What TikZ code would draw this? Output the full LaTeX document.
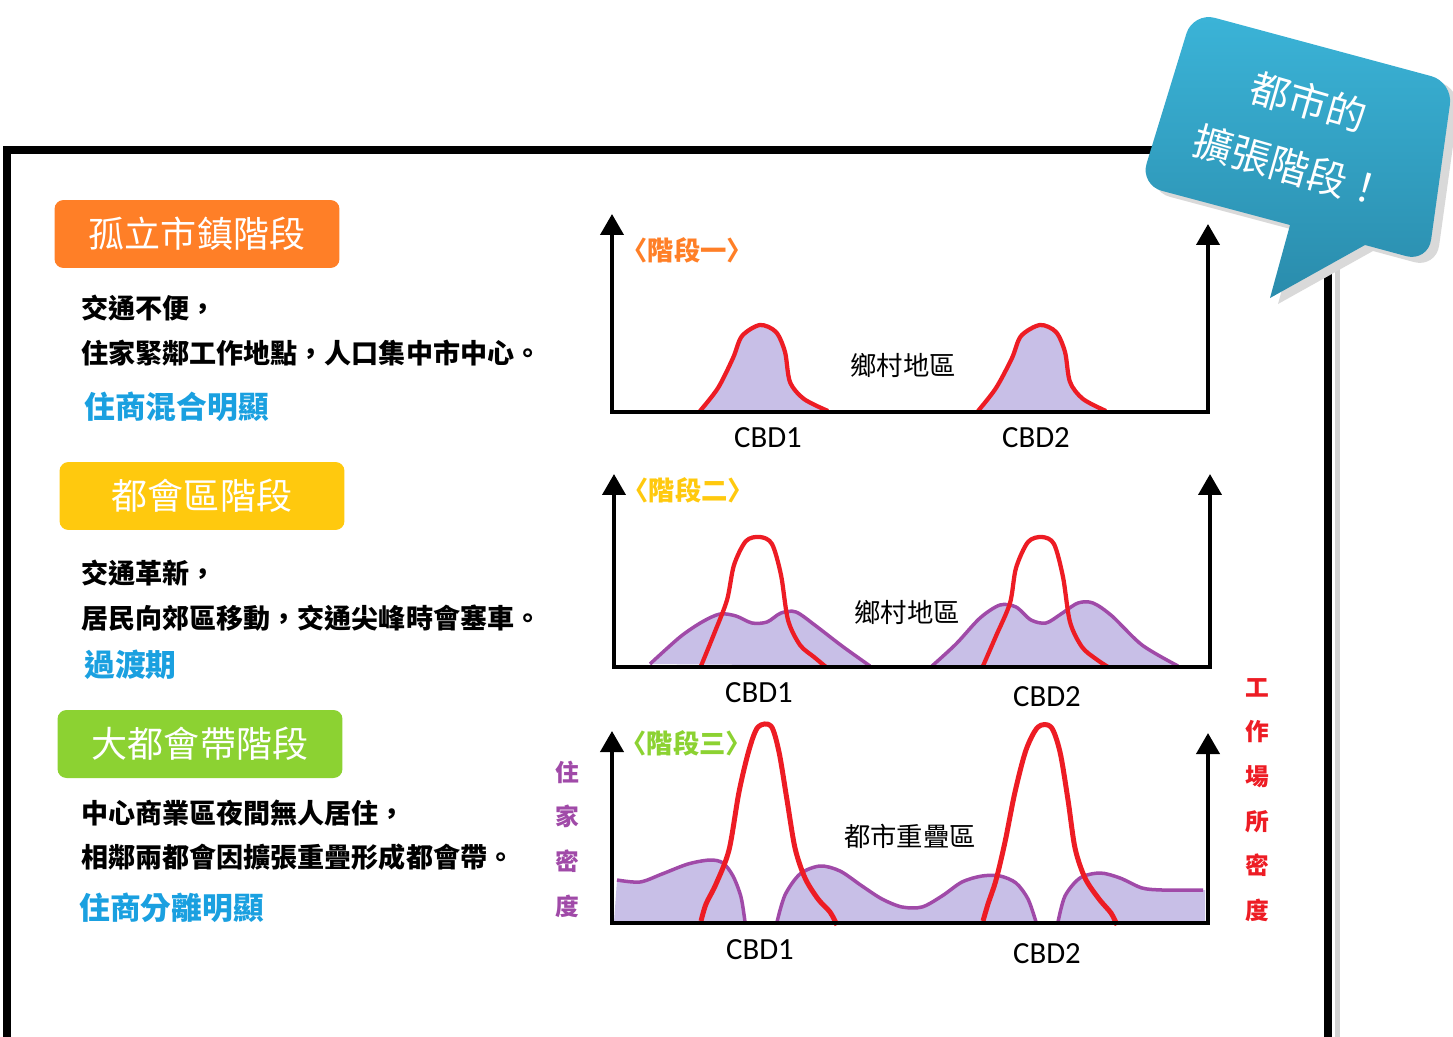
\documentclass[tikz,border=0pt]{standalone}
\usepackage{fontspec}
\setmainfont{Noto Sans CJK TC}
\newfontfamily\cbdfont{Carlito}
\usetikzlibrary{arrows.meta}
\definecolor{lav}{HTML}{C8BFE7}
\definecolor{peakred}{HTML}{ED1C24}
\definecolor{resid}{HTML}{A04AA8}
\definecolor{stageone}{HTML}{FF7F27}
\definecolor{stagetwo}{HTML}{FFC90E}
\definecolor{stagethree}{HTML}{8CD232}
\definecolor{notecol}{HTML}{1AA0E0}
\definecolor{bubtop}{HTML}{3BB4D8}
\definecolor{bubbot}{HTML}{2A8CAC}
\tikzset{
  badge/.style={fill=#1, rounded corners=0.18cm, minimum width=5.7cm, minimum height=1.36cm,
    text=white, font=\fontsize{20.5pt}{24pt}\selectfont},
  body/.style={anchor=west, font=\fontsize{15.4pt}{18pt}\selectfont\bfseries},
  note/.style={anchor=west, text=notecol, font=\fontsize{17.5pt}{21pt}\selectfont\bfseries},
  stagetag/.style={anchor=west, text=#1, font=\fontsize{15pt}{18pt}\selectfont\bfseries},
  area/.style={font=\fontsize{15pt}{18pt}\selectfont},
  cbd/.style={font=\cbdfont\fontsize{17.5pt}{20pt}\selectfont},
  axis/.style={line width=0.08cm, {Triangle[width=0.46cm,length=0.42cm]}-{Triangle[width=0.46cm,length=0.42cm]}},
  workline/.style={peakred, line width=0.085cm, line join=round},
  homeline/.style={resid, line width=0.07cm, line join=round},
  sidelabel/.style={text=#1, align=center, font=\fontsize{13.5pt}{25.4pt}\selectfont\bfseries},
  bubtext/.style={text=white, rotate=-16, align=center, font=\fontsize{22.5pt}{38pt}\selectfont}
}
\begin{document}
\begin{tikzpicture}[x=0.02cm,y=-0.02cm]
\tikzstyle{every node}+=[inner sep=0pt]
\useasboundingbox (0,0) rectangle (1453,1037);
\draw [gray!35, line width=0.1cm] (1337,158) -- (1337,1045);
\draw [black, line width=0.16cm] (7,1045) -- (7,150) -- (1328,150) -- (1328,1045);

\node [badge=stageone] (badge1) at (197,234) {孤立市鎮階段};
\node [body] (text1a) at (81,308) {交通不便，};
\node [body] (text1b) at (81,353) {住家緊鄰工作地點，人口集中市中心。};
\node [note] (note1) at (84,407) {住商混合明顯};

\node [badge=stagetwo] (badge2) at (202,496) {都會區階段};
\node [body] (text2a) at (81,573) {交通革新，};
\node [body] (text2b) at (81,618) {居民向郊區移動，交通尖峰時會塞車。};
\node [note] (note2) at (84,665) {過渡期};

\node [badge=stagethree] (badge3) at (200,744) {大都會帶階段};
\node [body] (text3a) at (81,813) {中心商業區夜間無人居住，};
\node [body] (text3b) at (81,857) {相鄰兩都會因擴張重疊形成都會帶。};
\node [note] (note3) at (79,908) {住商分離明顯};

\coordinate (top1l) at (612,214);
\coordinate (bot1l) at (612,412);
\coordinate (bot1r) at (1208,412);
\coordinate (top1r) at (1208,224);
\fill [lav] plot[smooth] coordinates {(700,411) (718,388) (733,358) (742,336) (760,325) (776,332) (785,352) (790,382) (804,399) (828,411)} -- cycle;
\fill [lav] plot[smooth] coordinates {(978,411) (996,388) (1012,358) (1021,336) (1040,325) (1056,332) (1065,352) (1070,382) (1083,399) (1106,411)} -- cycle;
\draw [workline] plot[smooth] coordinates {(700,411) (718,388) (733,358) (742,336) (760,325) (776,332) (785,352) (790,382) (804,399) (828,411)};
\draw [workline] plot[smooth] coordinates {(978,411) (996,388) (1012,358) (1021,336) (1040,325) (1056,332) (1065,352) (1070,382) (1083,399) (1106,411)};
\draw [axis] (top1l) -- (bot1l) -- (bot1r) -- (top1r);
\node [stagetag=stageone] (tag1) at (621,250) {〈階段一〉};
\node [area] (rural1) at (903,365) {鄉村地區};
\node [cbd] (cbd1a) at (768,438) {CBD1};
\node [cbd] (cbd1b) at (1036,438) {CBD2};

\coordinate (top2l) at (614,474);
\coordinate (bot2l) at (614,667);
\coordinate (bot2r) at (1210,667);
\coordinate (top2r) at (1210,474);
\fill [lav] plot[smooth] coordinates {(650,664) (680,637) (702,622) (720,614) (736,616) (752,623) (767,622) (781,613) (796,612) (816,626) (842,646) (870,666)} -- cycle;
\fill [lav] plot[smooth] coordinates {(932,666) (956,644) (980,618) (1000,605) (1016,607) (1031,620) (1046,623) (1061,614) (1078,603) (1093,603) (1112,616) (1142,645) (1178,666)} -- cycle;
\draw [homeline] plot[smooth] coordinates {(650,664) (680,637) (702,622) (720,614) (736,616) (752,623) (767,622) (781,613) (796,612) (816,626) (842,646) (870,666)};
\draw [homeline] plot[smooth] coordinates {(932,666) (956,644) (980,618) (1000,605) (1016,607) (1031,620) (1046,623) (1061,614) (1078,603) (1093,603) (1112,616) (1142,645) (1178,666)};
\draw [workline] plot[smooth] coordinates {(701,666) (714,634) (727,600) (734,565) (746,541) (760,537) (772,544) (781,575) (788,620) (800,645) (814,657) (826,667)};
\draw [workline] plot[smooth] coordinates {(983,666) (996,636) (1010,603) (1016,568) (1028,542) (1042,537) (1054,544) (1063,577) (1070,622) (1082,647) (1096,659) (1108,667)};
\draw [axis] (top2l) -- (bot2l) -- (bot2r) -- (top2r);
\node [stagetag=stagetwo] (tag2) at (622,490) {〈階段二〉};
\node [area] (rural2) at (907,612) {鄉村地區};
\node [cbd] (cbd2a) at (759,693) {CBD1};
\node [cbd] (cbd2b) at (1047,697) {CBD2};

\coordinate (top3l) at (612,731);
\coordinate (bot3l) at (612,923);
\coordinate (bot3r) at (1208,923);
\coordinate (top3r) at (1208,733);
\fill [lav] (614,922) -- plot[smooth] coordinates {(617,880) (640,882) (662,874) (688,864) (710,860) (723,863) (733,876) (741,897) (745,922)} -- cycle;
\fill [lav] plot[smooth] coordinates {(777,922) (785,895) (800,874) (820,866) (840,871) (862,886) (882,899) (902,907) (922,907) (942,896) (962,882) (982,876) (1000,876) (1016,883) (1028,899) (1036,922)} -- cycle;
\fill [lav] plot[smooth] coordinates {(1058,922) (1065,896) (1080,878) (1100,873) (1120,878) (1142,888) (1162,890) (1185,890) (1205,890)} -- (1205,922) -- cycle;
\draw [homeline] plot[smooth] coordinates {(617,880) (640,882) (662,874) (688,864) (710,860) (723,863) (733,876) (741,897) (745,922)};
\draw [homeline] plot[smooth] coordinates {(777,922) (785,895) (800,874) (820,866) (840,871) (862,886) (882,899) (902,907) (922,907) (942,896) (962,882) (982,876) (1000,876) (1016,883) (1028,899) (1036,922)};
\draw [homeline] plot[smooth] coordinates {(1058,922) (1065,896) (1080,878) (1100,873) (1120,878) (1142,888) (1162,890) (1185,890) (1203,890)};
\draw [workline, line width=0.1cm] plot[smooth] coordinates {(701,921) (706,904) (716,884) (729,850) (739,792) (749,750) (758,727) (771,726) (779,752) (787,800) (795,848) (805,878) (818,899) (830,912) (837,925)};
\draw [workline, line width=0.1cm] plot[smooth] coordinates {(983,921) (988,904) (996,880) (1005,842) (1015,792) (1026,750) (1038,727) (1051,727) (1060,752) (1068,800) (1075,848) (1085,878) (1099,899) (1111,913) (1117,925)};
\draw [axis] (top3l) -- (bot3l) -- (bot3r) -- (top3r);
\node [stagetag=stagethree] (tag3) at (620,743) {〈階段三〉};
\node [area] (overlap) at (910,836) {都市重疊區};
\node [cbd] (cbd3a) at (760,950) {CBD1};
\node [cbd] (cbd3b) at (1047,954) {CBD2};
\node [sidelabel=resid] (homeaxis) at (567,839) {住\\家\\密\\度};
\node [sidelabel=peakred] (workaxis) at (1257,800) {工\\作\\場\\所\\密\\度};

\fill [gray!30] (1278,304) -- (1298,231) [rounded corners=0.45cm] -- (1148,191) -- (1201,18) -- (1461,88) -- (1436,268) [sharp corners] -- (1373,251) -- cycle;
\shade [top color=bubtop, bottom color=bubbot] (1270,298) -- (1290,225) [rounded corners=0.45cm] -- (1140,185) -- (1193,12) -- (1453,82) -- (1428,262) [sharp corners] -- (1365,245) -- cycle;
\node [bubtext] (bubble) at (1299,134) {都市的\\擴張階段！};
\end{tikzpicture}
\end{document}
